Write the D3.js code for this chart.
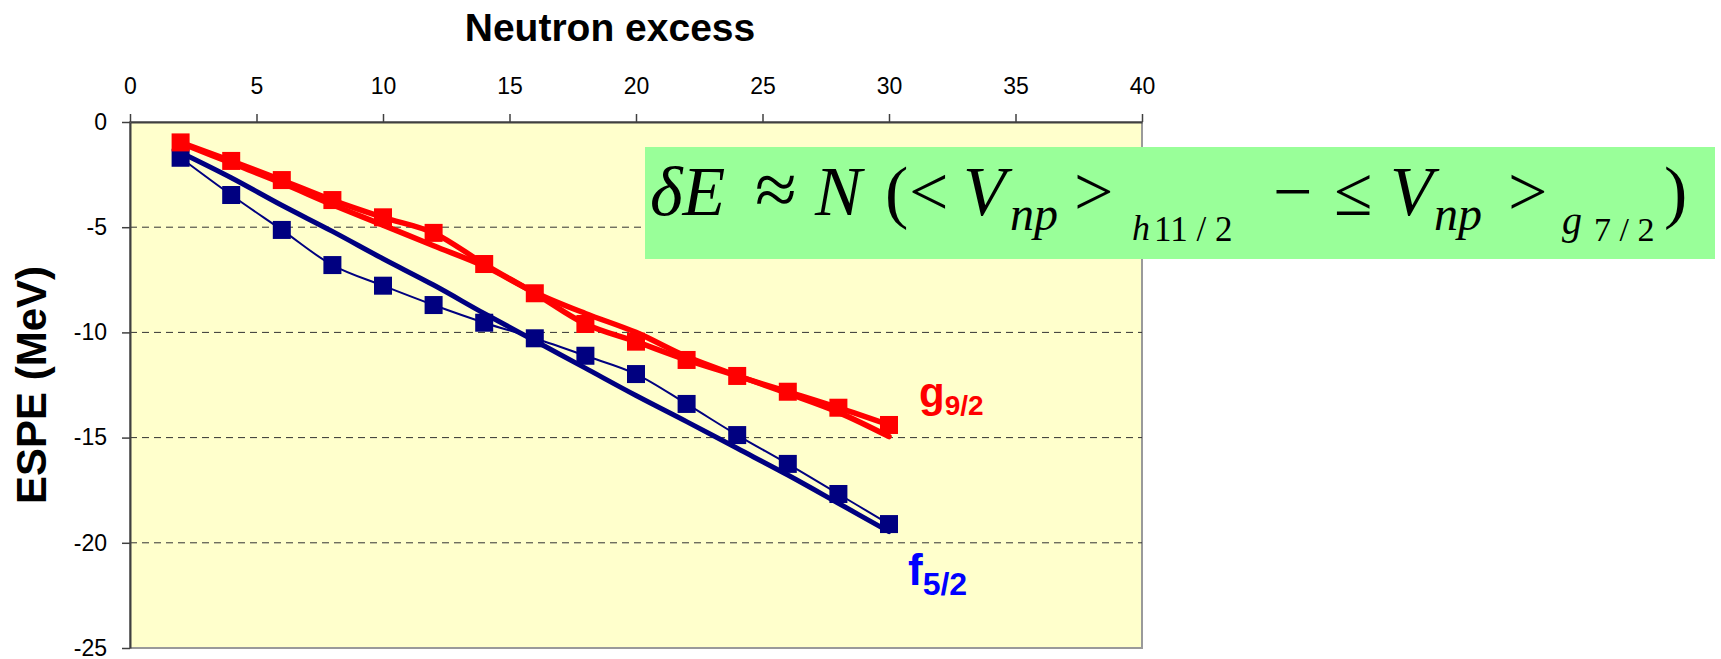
<!DOCTYPE html>
<html>
<head>
<meta charset="utf-8">
<script src="https://cdn.jsdelivr.net/npm/d3@7"></script>
<style>
  body { margin: 0; background: #fff; }
  svg { display: block; font-family: "Liberation Sans", Arial, sans-serif; }
</style>
</head>
<body>
<div id="chart"></div>
<script>
// Canvas size
const width = 1721;
const height = 659;

// Data
const neutronExcess = [2, 4, 6, 8, 10, 12, 14, 16, 18, 20, 22, 24, 26, 28, 30];
const g92Espe   = [-0.97, -1.85, -2.76, -3.71, -4.53, -5.27, -6.75, -8.14, -9.60, -10.44, -11.31, -12.07, -12.82, -13.58, -14.40];
const g92Trend  = [-1.0, -1.95, -2.9, -3.93, -4.9, -5.88, -6.85, -8.1, -9.1, -10.0, -11.15, -12.05, -12.9, -13.8, -14.95];
const f52Espe   = [-1.70, -3.47, -5.13, -6.80, -7.78, -8.70, -9.54, -10.28, -11.11, -11.98, -13.40, -14.88, -16.25, -17.68, -19.11];
const f52Trend  = [-1.45, -2.65, -3.96, -5.2, -6.5, -7.75, -9.1, -10.4, -11.7, -13.0, -14.24, -15.51, -16.78, -18.12, -19.47];
const xTicks = [0, 5, 10, 15, 20, 25, 30, 35, 40];
const yTicks = [0, -5, -10, -15, -20, -25];
const gridTicks = [-5, -10, -15, -20];

const svg = d3.select("#chart")
    .append("svg")
    .attr("width", width)
    .attr("height", height);

// Scales
const xScale = d3.scaleLinear().domain([0, 40]).range([130, 1142]);
const yScale = d3.scaleLinear().domain([-25, 0]).range([648, 122]);

// Plot area background
svg.append("rect")
    .attr("x", xScale(0))
    .attr("y", yScale(0))
    .attr("width", xScale(40) - xScale(0))
    .attr("height", yScale(-25) - yScale(0))
    .attr("fill", "#FFFFCC")
    .attr("stroke", "#9a9a9a")
    .attr("stroke-width", 2);

// Dashed gridlines
svg.append("g")
    .selectAll("line")
    .data(gridTicks)
    .join("line")
    .attr("x1", xScale(0))
    .attr("x2", xScale(40))
    .attr("y1", d => yScale(d))
    .attr("y2", d => yScale(d))
    .attr("stroke", "#333")
    .attr("stroke-width", 1)
    .attr("stroke-dasharray", "7,5");

// X axis (on top)
const xAxis = svg.append("g")
    .attr("transform", `translate(0, ${yScale(0)})`)
    .call(d3.axisTop(xScale).tickValues(xTicks).tickSize(8).tickSizeOuter(0).tickPadding(20));

// Y axis
const yAxis = svg.append("g")
    .attr("transform", `translate(${xScale(0)}, 0)`)
    .call(d3.axisLeft(yScale).tickValues(yTicks).tickFormat(d => String(d))
        .tickSize(8).tickSizeOuter(0).tickPadding(15));

[xAxis, yAxis].forEach(a => {
    a.select(".domain").attr("stroke", "#404040").attr("stroke-width", 2);
    a.selectAll(".tick line").attr("stroke", "#404040").attr("stroke-width", 1.5);
    a.selectAll(".tick text")
        .attr("fill", "#000")
        .style("font-size", "23px")
        .style("font-family", "'Liberation Sans', Arial, sans-serif");
});

// Axis titles
svg.append("text")
    .attr("x", 610)
    .attr("y", 41)
    .attr("text-anchor", "middle")
    .style("font-size", "39px")
    .style("font-weight", "bold")
    .text("Neutron excess");

svg.append("text")
    .attr("transform", `translate(46, ${(yScale(0) + yScale(-25)) / 2}) rotate(-90)`)
    .attr("text-anchor", "middle")
    .style("font-size", "42px")
    .style("font-weight", "bold")
    .text("ESPE (MeV)");

// Line generator
const line = d3.line()
    .x((d, i) => xScale(neutronExcess[i]))
    .y(d => yScale(d))
    .curve(d3.curveCatmullRom);

// f5/2 lines
svg.append("path")
    .datum(f52Trend)
    .attr("fill", "none")
    .attr("stroke", "#000080")
    .attr("stroke-width", 5)
    .attr("stroke-linecap", "round")
    .attr("d", line);

svg.append("path")
    .datum(f52Espe)
    .attr("fill", "none")
    .attr("stroke", "#000080")
    .attr("stroke-width", 2)
    .attr("d", line);

svg.append("g")
    .selectAll("rect")
    .data(f52Espe)
    .join("rect")
    .attr("x", (d, i) => xScale(neutronExcess[i]) - 9)
    .attr("y", d => yScale(d) - 9)
    .attr("width", 18)
    .attr("height", 18)
    .attr("fill", "#000080");

// g9/2 lines
svg.append("path")
    .datum(g92Trend)
    .attr("fill", "none")
    .attr("stroke", "#FF0000")
    .attr("stroke-width", 5.5)
    .attr("stroke-linecap", "round")
    .attr("d", line);

svg.append("path")
    .datum(g92Espe)
    .attr("fill", "none")
    .attr("stroke", "#FF0000")
    .attr("stroke-width", 5.5)
    .attr("d", line);

svg.append("g")
    .selectAll("rect")
    .data(g92Espe)
    .join("rect")
    .attr("x", (d, i) => xScale(neutronExcess[i]) - 9)
    .attr("y", d => yScale(d) - 9)
    .attr("width", 18)
    .attr("height", 18)
    .attr("fill", "#FF0000");

// Series labels
const gLabel = svg.append("text")
    .attr("x", 919)
    .attr("y", 407)
    .attr("fill", "#FF0000")
    .style("font-weight", "bold");
gLabel.append("tspan").style("font-size", "42px").text("g");
gLabel.append("tspan").style("font-size", "28px").attr("dy", 8).text("9/2");

const fLabel = svg.append("text")
    .attr("x", 908)
    .attr("y", 585)
    .attr("fill", "#0000FF")
    .style("font-weight", "bold");
fLabel.append("tspan").style("font-size", "44px").text("f");
fLabel.append("tspan").style("font-size", "32px").attr("dy", 10).text("5/2");

// Formula box
svg.append("rect")
    .attr("x", 645)
    .attr("y", 147)
    .attr("width", 1070)
    .attr("height", 112)
    .attr("fill", "#99FF99");

const eq = svg.append("g")
    .style("font-family", "'Liberation Serif', 'Times New Roman', serif")
    .attr("fill", "#000");

const pieces = [
    {t: "\u03B4E", x: 650, y: 215, s: 70, i: true},
    {t: "\u2248", x: 755, y: 215, s: 76, i: false},
    {t: "N", x: 815, y: 215, s: 70, i: true},
    {t: "(", x: 885, y: 215, s: 70, i: false},
    {t: "<", x: 909, y: 215, s: 70, i: false},
    {t: "V", x: 963, y: 215, s: 70, i: true},
    {t: "np", x: 1010, y: 230, s: 48, i: true},
    {t: ">", x: 1074, y: 215, s: 70, i: false},
    {t: "h", x: 1132, y: 240, s: 36, i: true},
    {t: "11 / 2", x: 1154, y: 241, s: 35, i: false},
    {t: "\u2212", x: 1273, y: 215, s: 70, i: false},
    {t: "\u2264", x: 1334, y: 215, s: 70, i: false},
    {t: "V", x: 1390, y: 215, s: 70, i: true},
    {t: "np", x: 1434, y: 230, s: 48, i: true},
    {t: ">", x: 1508, y: 215, s: 70, i: false},
    {t: "g", x: 1562, y: 234, s: 40, i: true},
    {t: "7 / 2", x: 1594, y: 241, s: 34, i: false},
    {t: ")", x: 1664, y: 215, s: 70, i: false}
];

eq.selectAll("text")
    .data(pieces)
    .join("text")
    .attr("x", d => d.x)
    .attr("y", d => d.y)
    .style("font-size", d => d.s + "px")
    .style("font-style", d => d.i ? "italic" : "normal")
    .text(d => d.t);
</script>
</body>
</html>
